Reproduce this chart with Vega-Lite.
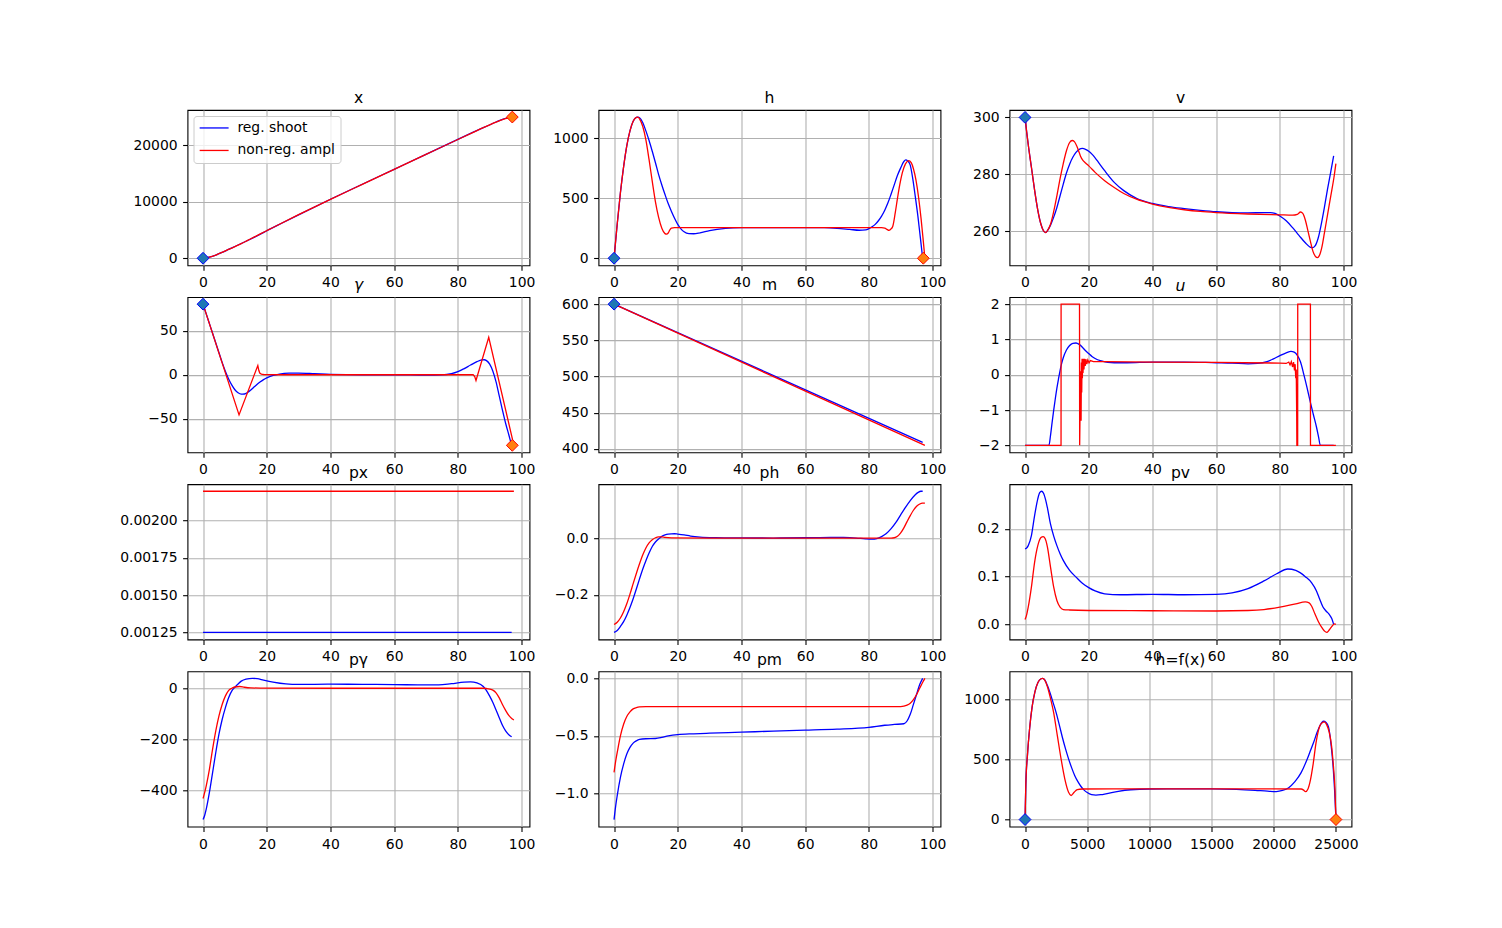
{
"$schema":"https://vega.github.io/schema/vega-lite/v6.json",
"background":"white",
"padding":{"left":118.5,"top":89,"right":5,"bottom":5},
"config":{
 "view":{"stroke":"black","strokeWidth":1.1},
 "axis":{"domain":false,"grid":true,"gridColor":"#b0b0b0","gridWidth":1.1,"tickColor":"black","tickSize":4.9,"tickWidth":1.1,"labelFont":"DejaVu Sans","labelFontSize":13.9,"labelColor":"black","labelPadding":5.5,"labelFlush":false,"labelOverlap":false,"labelBound":false},
 "title":{"font":"DejaVu Sans","fontSize":15.6,"fontWeight":"normal","color":"black","frame":"group","anchor":"middle","offset":3,"baseline":"alphabetic"},
 "line":{"strokeWidth":1.3}
},
"datasets":{
"mk":[{"p":"x","k":"start","t":0,"y":0},{"p":"x","k":"end","t":97.1,"y":25000},{"p":"h","k":"start","t":0,"y":0},{"p":"h","k":"end","t":97.1,"y":0},{"p":"v","k":"start","t":0,"y":300},{"p":"g","k":"start","t":0,"y":80},{"p":"g","k":"end","t":97.1,"y":-80},{"p":"m","k":"start","t":0,"y":600},{"p":"hx","k":"start","t":0,"y":0},{"p":"hx","k":"end","t":25000,"y":0}],
"x":[{"s":"b","t":0,"y":0},{"s":"b","t":2,"y":200},{"s":"b","t":4,"y":565},{"s":"b","t":6,"y":1035},{"s":"b","t":8,"y":1555},{"s":"b","t":10,"y":2080},{"s":"b","t":12,"y":2605},{"s":"b","t":14,"y":3140},{"s":"b","t":16,"y":3690},{"s":"b","t":18,"y":4260},{"s":"b","t":20,"y":4860},{"s":"b","t":25,"y":6280},{"s":"b","t":30,"y":7690},{"s":"b","t":40,"y":10440},{"s":"b","t":50,"y":13100},{"s":"b","t":60,"y":15750},{"s":"b","t":70,"y":18400},{"s":"b","t":80,"y":21060},{"s":"b","t":84,"y":22100},{"s":"b","t":88,"y":23130},{"s":"b","t":92,"y":24130},{"s":"b","t":94,"y":24610},{"s":"b","t":95.5,"y":24860},{"s":"b","t":96.9,"y":25000},
{"s":"r","t":0,"y":0},{"s":"r","t":2,"y":200},{"s":"r","t":4,"y":565},{"s":"r","t":6,"y":1035},{"s":"r","t":8,"y":1555},{"s":"r","t":10,"y":2060},{"s":"r","t":12,"y":2580},{"s":"r","t":14,"y":3160},{"s":"r","t":16,"y":3740},{"s":"r","t":18,"y":4310},{"s":"r","t":20,"y":4880},{"s":"r","t":30,"y":7710},{"s":"r","t":40,"y":10430},{"s":"r","t":50,"y":13080},{"s":"r","t":60,"y":15730},{"s":"r","t":70,"y":18380},{"s":"r","t":80,"y":21030},{"s":"r","t":85,"y":22340},{"s":"r","t":88,"y":23120},{"s":"r","t":90,"y":23620},{"s":"r","t":92,"y":24100},{"s":"r","t":94,"y":24540},{"s":"r","t":96,"y":24840},{"s":"r","t":97.6,"y":25000}],
"h":[{"s":"b","t":0,"y":0},{"s":"b","t":1,"y":285},{"s":"b","t":2,"y":545},{"s":"b","t":3,"y":760},{"s":"b","t":4,"y":935},{"s":"b","t":5,"y":1060},{"s":"b","t":6,"y":1140},{"s":"b","t":7,"y":1172},{"s":"b","t":7.5,"y":1175},{"s":"b","t":8,"y":1170},{"s":"b","t":9,"y":1130},{"s":"b","t":10,"y":1060},{"s":"b","t":11,"y":980},{"s":"b","t":12,"y":890},{"s":"b","t":13,"y":795},{"s":"b","t":14,"y":696},{"s":"b","t":15,"y":610},{"s":"b","t":16,"y":530},{"s":"b","t":17,"y":455},{"s":"b","t":18,"y":392},{"s":"b","t":19,"y":333},{"s":"b","t":20,"y":282},{"s":"b","t":21,"y":245},{"s":"b","t":22,"y":220},{"s":"b","t":23.5,"y":205},{"s":"b","t":25,"y":204},{"s":"b","t":27,"y":212},{"s":"b","t":30,"y":230},{"s":"b","t":35,"y":248},{"s":"b","t":40,"y":254},{"s":"b","t":50,"y":255},{"s":"b","t":60,"y":255},{"s":"b","t":66,"y":254},{"s":"b","t":70,"y":249},{"s":"b","t":74,"y":240},{"s":"b","t":77,"y":233},{"s":"b","t":79,"y":236},{"s":"b","t":80,"y":246},{"s":"b","t":81,"y":262},{"s":"b","t":82,"y":282},{"s":"b","t":83,"y":312},{"s":"b","t":84,"y":351},{"s":"b","t":85,"y":400},{"s":"b","t":86,"y":461},{"s":"b","t":87,"y":535},{"s":"b","t":88,"y":613},{"s":"b","t":89,"y":690},{"s":"b","t":90,"y":752},{"s":"b","t":91,"y":805},{"s":"b","t":91.6,"y":818},{"s":"b","t":92.2,"y":810},{"s":"b","t":93,"y":775},{"s":"b","t":93.8,"y":660},{"s":"b","t":94.6,"y":510},{"s":"b","t":95.4,"y":350},{"s":"b","t":96.2,"y":165},{"s":"b","t":96.9,"y":0},
{"s":"r","t":0,"y":0},{"s":"r","t":1,"y":285},{"s":"r","t":2,"y":545},{"s":"r","t":3,"y":760},{"s":"r","t":4,"y":935},{"s":"r","t":5,"y":1060},{"s":"r","t":6,"y":1140},{"s":"r","t":7,"y":1172},{"s":"r","t":7.5,"y":1175},{"s":"r","t":8,"y":1160},{"s":"r","t":9,"y":1098},{"s":"r","t":10,"y":985},{"s":"r","t":11,"y":820},{"s":"r","t":12,"y":640},{"s":"r","t":13,"y":470},{"s":"r","t":14,"y":340},{"s":"r","t":15,"y":250},{"s":"r","t":16,"y":205},{"s":"r","t":16.5,"y":200},{"s":"r","t":17,"y":210},{"s":"r","t":17.5,"y":235},{"s":"r","t":18,"y":250},{"s":"r","t":19,"y":254},{"s":"r","t":30,"y":254},{"s":"r","t":50,"y":255},{"s":"r","t":70,"y":255},{"s":"r","t":84,"y":254},{"s":"r","t":85,"y":250},{"s":"r","t":85.8,"y":238},{"s":"r","t":86.3,"y":232},{"s":"r","t":86.8,"y":240},{"s":"r","t":87.5,"y":265},{"s":"r","t":88.3,"y":380},{"s":"r","t":89,"y":500},{"s":"r","t":89.7,"y":610},{"s":"r","t":90.5,"y":710},{"s":"r","t":91.5,"y":785},{"s":"r","t":92.5,"y":812},{"s":"r","t":93.3,"y":795},{"s":"r","t":94,"y":745},{"s":"r","t":94.8,"y":650},{"s":"r","t":95.6,"y":510},{"s":"r","t":96.4,"y":330},{"s":"r","t":97,"y":170},{"s":"r","t":97.6,"y":0}],
"v":[{"s":"b","t":0,"y":300},{"s":"b","t":0.5,"y":295},{"s":"b","t":1,"y":290.5},{"s":"b","t":2,"y":282.5},{"s":"b","t":3,"y":274.5},{"s":"b","t":4,"y":267.5},{"s":"b","t":5,"y":262.5},{"s":"b","t":6,"y":259.9},{"s":"b","t":6.5,"y":259.6},{"s":"b","t":7,"y":260.2},{"s":"b","t":8,"y":262.2},{"s":"b","t":9,"y":265},{"s":"b","t":10,"y":268.4},{"s":"b","t":11,"y":272.5},{"s":"b","t":12,"y":276.6},{"s":"b","t":13,"y":280.5},{"s":"b","t":14,"y":283.6},{"s":"b","t":15,"y":286},{"s":"b","t":16,"y":287.7},{"s":"b","t":17,"y":288.8},{"s":"b","t":18,"y":289.1},{"s":"b","t":19,"y":288.8},{"s":"b","t":20,"y":288.1},{"s":"b","t":21,"y":287.1},{"s":"b","t":22,"y":285.8},{"s":"b","t":23,"y":284.3},{"s":"b","t":25,"y":281.3},{"s":"b","t":28,"y":277.2},{"s":"b","t":31,"y":274.3},{"s":"b","t":35,"y":271.6},{"s":"b","t":40,"y":269.8},{"s":"b","t":45,"y":268.7},{"s":"b","t":50,"y":268},{"s":"b","t":55,"y":267.4},{"s":"b","t":60,"y":266.9},{"s":"b","t":65,"y":266.6},{"s":"b","t":70,"y":266.5},{"s":"b","t":75,"y":266.6},{"s":"b","t":77,"y":266.6},{"s":"b","t":78.5,"y":266.3},{"s":"b","t":80,"y":265.4},{"s":"b","t":82,"y":263.7},{"s":"b","t":84,"y":261.3},{"s":"b","t":86,"y":258.6},{"s":"b","t":88,"y":256},{"s":"b","t":89.5,"y":254.5},{"s":"b","t":90.3,"y":254.3},{"s":"b","t":91,"y":254.8},{"s":"b","t":92,"y":257.5},{"s":"b","t":93,"y":262.5},{"s":"b","t":94,"y":268.5},{"s":"b","t":95,"y":275},{"s":"b","t":96,"y":281},{"s":"b","t":96.9,"y":286.5},
{"s":"r","t":0,"y":300},{"s":"r","t":0.5,"y":295},{"s":"r","t":1,"y":290.5},{"s":"r","t":2,"y":282.5},{"s":"r","t":3,"y":274.5},{"s":"r","t":4,"y":267.5},{"s":"r","t":5,"y":262.5},{"s":"r","t":6,"y":259.9},{"s":"r","t":6.5,"y":259.6},{"s":"r","t":7,"y":260.2},{"s":"r","t":8,"y":262.5},{"s":"r","t":9,"y":267},{"s":"r","t":10,"y":272.5},{"s":"r","t":11,"y":278.5},{"s":"r","t":12,"y":283.8},{"s":"r","t":13,"y":288.3},{"s":"r","t":14,"y":291.2},{"s":"r","t":14.8,"y":291.9},{"s":"r","t":15.5,"y":291.5},{"s":"r","t":16.3,"y":289.8},{"s":"r","t":17,"y":287.7},{"s":"r","t":17.5,"y":286.2},{"s":"r","t":18,"y":285.2},{"s":"r","t":19,"y":284},{"s":"r","t":20,"y":283},{"s":"r","t":22,"y":280.7},{"s":"r","t":25,"y":277.8},{"s":"r","t":28,"y":275.4},{"s":"r","t":31,"y":273.3},{"s":"r","t":35,"y":271.3},{"s":"r","t":40,"y":269.6},{"s":"r","t":45,"y":268.4},{"s":"r","t":50,"y":267.6},{"s":"r","t":55,"y":267},{"s":"r","t":60,"y":266.6},{"s":"r","t":70,"y":266.1},{"s":"r","t":80,"y":265.8},{"s":"r","t":84,"y":265.7},{"s":"r","t":85.5,"y":266},{"s":"r","t":86.5,"y":266.8},{"s":"r","t":87.2,"y":266.3},{"s":"r","t":88,"y":264},{"s":"r","t":88.8,"y":260.3},{"s":"r","t":89.6,"y":256.5},{"s":"r","t":90.4,"y":253},{"s":"r","t":91.2,"y":251.2},{"s":"r","t":91.8,"y":250.8},{"s":"r","t":92.4,"y":251.5},{"s":"r","t":93.2,"y":254.5},{"s":"r","t":94,"y":259.5},{"s":"r","t":95,"y":266},{"s":"r","t":96,"y":272.5},{"s":"r","t":97,"y":279},{"s":"r","t":97.6,"y":283.8}],
"g":[{"s":"b","t":0,"y":80},{"s":"b","t":1,"y":69},{"s":"b","t":2,"y":58},{"s":"b","t":3,"y":47},{"s":"b","t":4,"y":36},{"s":"b","t":5,"y":25},{"s":"b","t":6,"y":14},{"s":"b","t":7,"y":4},{"s":"b","t":8,"y":-4.5},{"s":"b","t":9,"y":-11.5},{"s":"b","t":10,"y":-17},{"s":"b","t":11,"y":-20.5},{"s":"b","t":12,"y":-22},{"s":"b","t":13,"y":-21.8},{"s":"b","t":14,"y":-20},{"s":"b","t":15,"y":-17.3},{"s":"b","t":16,"y":-14},{"s":"b","t":17,"y":-10.8},{"s":"b","t":18,"y":-8},{"s":"b","t":19,"y":-5.5},{"s":"b","t":20,"y":-3.5},{"s":"b","t":22,"y":-0.8},{"s":"b","t":24,"y":0.8},{"s":"b","t":27,"y":1.8},{"s":"b","t":30,"y":1.9},{"s":"b","t":35,"y":1.2},{"s":"b","t":40,"y":0.4},{"s":"b","t":50,"y":0},{"s":"b","t":60,"y":0},{"s":"b","t":70,"y":-0.4},{"s":"b","t":75,"y":-0.2},{"s":"b","t":78,"y":1.2},{"s":"b","t":80,"y":3.5},{"s":"b","t":82,"y":7},{"s":"b","t":84,"y":11},{"s":"b","t":86,"y":14.8},{"s":"b","t":87.5,"y":16.8},{"s":"b","t":88.3,"y":17},{"s":"b","t":89,"y":16},{"s":"b","t":90,"y":12},{"s":"b","t":91,"y":4},{"s":"b","t":92,"y":-8},{"s":"b","t":93,"y":-24},{"s":"b","t":94,"y":-40},{"s":"b","t":95,"y":-55},{"s":"b","t":96,"y":-68},{"s":"b","t":96.9,"y":-80},
{"s":"r","t":0,"y":80},{"s":"r","t":11.3,"y":-45.5},{"s":"r","t":17.2,"y":10.5},{"s":"r","t":17.5,"y":5},{"s":"r","t":17.8,"y":2},{"s":"r","t":18.3,"y":0.8},{"s":"r","t":19,"y":0.3},{"s":"r","t":25,"y":0},{"s":"r","t":84.8,"y":0},{"s":"r","t":85.3,"y":-2},{"s":"r","t":85.7,"y":-6.5},{"s":"r","t":89.7,"y":42.4},{"s":"r","t":97.6,"y":-80}],
"m":[{"s":"b","t":0,"y":600},{"s":"b","t":48,"y":505.5},{"s":"b","t":96.9,"y":409},{"s":"r","t":0,"y":600},{"s":"r","t":48,"y":504},{"s":"r","t":97.6,"y":405}],
"u":[{"s":"b","t":0,"y":-2},{"s":"b","t":7.5,"y":-2},{"s":"b","t":8,"y":-1.72},{"s":"b","t":8.5,"y":-1.35},{"s":"b","t":9,"y":-1},{"s":"b","t":9.5,"y":-0.68},{"s":"b","t":10,"y":-0.38},{"s":"b","t":10.5,"y":-0.12},{"s":"b","t":11,"y":0.12},{"s":"b","t":11.5,"y":0.32},{"s":"b","t":12,"y":0.48},{"s":"b","t":13,"y":0.7},{"s":"b","t":14,"y":0.83},{"s":"b","t":15,"y":0.89},{"s":"b","t":16,"y":0.9},{"s":"b","t":17,"y":0.86},{"s":"b","t":18,"y":0.78},{"s":"b","t":19,"y":0.68},{"s":"b","t":20,"y":0.6},{"s":"b","t":21,"y":0.52},{"s":"b","t":22,"y":0.46},{"s":"b","t":24,"y":0.39},{"s":"b","t":26,"y":0.35},{"s":"b","t":28,"y":0.34},{"s":"b","t":32,"y":0.34},{"s":"b","t":40,"y":0.36},{"s":"b","t":50,"y":0.36},{"s":"b","t":60,"y":0.34},{"s":"b","t":65,"y":0.33},{"s":"b","t":70,"y":0.31},{"s":"b","t":73,"y":0.32},{"s":"b","t":76,"y":0.37},{"s":"b","t":78,"y":0.45},{"s":"b","t":80,"y":0.54},{"s":"b","t":82,"y":0.62},{"s":"b","t":83.5,"y":0.66},{"s":"b","t":84.5,"y":0.64},{"s":"b","t":85.5,"y":0.55},{"s":"b","t":86.5,"y":0.36},{"s":"b","t":87.5,"y":0.02},{"s":"b","t":88.5,"y":-0.35},{"s":"b","t":89.5,"y":-0.75},{"s":"b","t":90.5,"y":-1.12},{"s":"b","t":91.5,"y":-1.48},{"s":"b","t":92.2,"y":-1.78},{"s":"b","t":92.7,"y":-2},{"s":"b","t":96.9,"y":-2},
{"s":"r","t":0,"y":-2},{"s":"r","t":11.3,"y":-2},{"s":"r","t":11.32,"y":2},{"s":"r","t":17.1,"y":2},{"s":"r","t":17.15,"y":-2},{"s":"r","t":17.35,"y":-0.5},{"s":"r","t":17.5,"y":0.1},{"s":"r","t":17.6,"y":-1.3},{"s":"r","t":17.7,"y":0.35},{"s":"r","t":17.8,"y":-0.5},{"s":"r","t":17.9,"y":0.45},{"s":"r","t":18,"y":-0.1},{"s":"r","t":18.1,"y":0.45},{"s":"r","t":18.2,"y":0.05},{"s":"r","t":18.35,"y":0.45},{"s":"r","t":18.5,"y":0.15},{"s":"r","t":18.7,"y":0.45},{"s":"r","t":18.9,"y":0.25},{"s":"r","t":19.1,"y":0.44},{"s":"r","t":19.4,"y":0.3},{"s":"r","t":19.7,"y":0.42},{"s":"r","t":20.1,"y":0.34},{"s":"r","t":20.5,"y":0.4},{"s":"r","t":21.5,"y":0.37},{"s":"r","t":25,"y":0.37},{"s":"r","t":40,"y":0.36},{"s":"r","t":60,"y":0.35},{"s":"r","t":80,"y":0.33},{"s":"r","t":82,"y":0.32},{"s":"r","t":82.8,"y":0.36},{"s":"r","t":83.2,"y":0.28},{"s":"r","t":83.6,"y":0.37},{"s":"r","t":84,"y":0.22},{"s":"r","t":84.3,"y":0.36},{"s":"r","t":84.6,"y":0.12},{"s":"r","t":84.8,"y":0.3},{"s":"r","t":85,"y":-0.1},{"s":"r","t":85.15,"y":0.15},{"s":"r","t":85.3,"y":-1.2},{"s":"r","t":85.35,"y":-2},{"s":"r","t":85.6,"y":-2},{"s":"r","t":85.62,"y":2},{"s":"r","t":89.6,"y":2},{"s":"r","t":89.62,"y":-2},{"s":"r","t":97.6,"y":-2}],
"px":[{"s":"b","t":0,"y":0.00125},{"s":"b","t":96.9,"y":0.00125},{"s":"r","t":0,"y":0.002195},{"s":"r","t":97.6,"y":0.002195}],
"ph":[{"s":"b","t":0,"y":-0.333},{"s":"b","t":1,"y":-0.326},{"s":"b","t":2,"y":-0.312},{"s":"b","t":3,"y":-0.295},{"s":"b","t":4,"y":-0.272},{"s":"b","t":5,"y":-0.245},{"s":"b","t":6,"y":-0.214},{"s":"b","t":7,"y":-0.18},{"s":"b","t":8,"y":-0.144},{"s":"b","t":9,"y":-0.11},{"s":"b","t":10,"y":-0.08},{"s":"b","t":11,"y":-0.053},{"s":"b","t":12,"y":-0.03},{"s":"b","t":13,"y":-0.014},{"s":"b","t":14,"y":-0.003},{"s":"b","t":15,"y":0.006},{"s":"b","t":16,"y":0.011},{"s":"b","t":17,"y":0.014},{"s":"b","t":18,"y":0.015},{"s":"b","t":19,"y":0.0152},{"s":"b","t":20,"y":0.014},{"s":"b","t":22,"y":0.011},{"s":"b","t":24,"y":0.007},{"s":"b","t":27,"y":0.0035},{"s":"b","t":32,"y":0.0015},{"s":"b","t":40,"y":0.0005},{"s":"b","t":50,"y":0},{"s":"b","t":60,"y":0.001},{"s":"b","t":68,"y":0.0025},{"s":"b","t":72,"y":0.002},{"s":"b","t":76,"y":0},{"s":"b","t":79,"y":-0.003},{"s":"b","t":81,"y":-0.004},{"s":"b","t":82.5,"y":-0.002},{"s":"b","t":84,"y":0.005},{"s":"b","t":85.5,"y":0.016},{"s":"b","t":87,"y":0.033},{"s":"b","t":88.5,"y":0.055},{"s":"b","t":90,"y":0.082},{"s":"b","t":91.5,"y":0.108},{"s":"b","t":93,"y":0.132},{"s":"b","t":94.5,"y":0.152},{"s":"b","t":95.5,"y":0.161},{"s":"b","t":96.3,"y":0.165},{"s":"b","t":96.9,"y":0.165},
{"s":"r","t":0,"y":-0.305},{"s":"r","t":1,"y":-0.297},{"s":"r","t":2,"y":-0.282},{"s":"r","t":3,"y":-0.26},{"s":"r","t":4,"y":-0.232},{"s":"r","t":5,"y":-0.198},{"s":"r","t":6,"y":-0.161},{"s":"r","t":7,"y":-0.125},{"s":"r","t":8,"y":-0.091},{"s":"r","t":9,"y":-0.06},{"s":"r","t":10,"y":-0.035},{"s":"r","t":11,"y":-0.017},{"s":"r","t":12,"y":-0.006},{"s":"r","t":13,"y":0.001},{"s":"r","t":14,"y":0.004},{"s":"r","t":15,"y":0.004},{"s":"r","t":16,"y":0.002},{"s":"r","t":18,"y":0.0005},{"s":"r","t":30,"y":0},{"s":"r","t":87,"y":0},{"s":"r","t":88,"y":0.001},{"s":"r","t":89,"y":0.006},{"s":"r","t":90,"y":0.018},{"s":"r","t":91,"y":0.036},{"s":"r","t":92,"y":0.058},{"s":"r","t":93,"y":0.079},{"s":"r","t":94,"y":0.098},{"s":"r","t":95,"y":0.112},{"s":"r","t":96,"y":0.12},{"s":"r","t":96.8,"y":0.123},{"s":"r","t":97.6,"y":0.123}],
"pv":[{"s":"b","t":0,"y":0.158},{"s":"b","t":0.5,"y":0.16},{"s":"b","t":1,"y":0.165},{"s":"b","t":2,"y":0.186},{"s":"b","t":3,"y":0.228},{"s":"b","t":4,"y":0.263},{"s":"b","t":4.6,"y":0.276},{"s":"b","t":5.2,"y":0.279},{"s":"b","t":5.8,"y":0.275},{"s":"b","t":6.5,"y":0.26},{"s":"b","t":7,"y":0.245},{"s":"b","t":8,"y":0.21},{"s":"b","t":9,"y":0.185},{"s":"b","t":10,"y":0.165},{"s":"b","t":11,"y":0.148},{"s":"b","t":12,"y":0.134},{"s":"b","t":14,"y":0.113},{"s":"b","t":16,"y":0.099},{"s":"b","t":18,"y":0.086},{"s":"b","t":20,"y":0.077},{"s":"b","t":22,"y":0.07},{"s":"b","t":25,"y":0.064},{"s":"b","t":30,"y":0.062},{"s":"b","t":40,"y":0.063},{"s":"b","t":50,"y":0.062},{"s":"b","t":60,"y":0.063},{"s":"b","t":65,"y":0.066},{"s":"b","t":70,"y":0.075},{"s":"b","t":75,"y":0.091},{"s":"b","t":79,"y":0.106},{"s":"b","t":82.5,"y":0.116},{"s":"b","t":85,"y":0.113},{"s":"b","t":88,"y":0.1},{"s":"b","t":90,"y":0.087},{"s":"b","t":91.5,"y":0.07},{"s":"b","t":92.5,"y":0.053},{"s":"b","t":93.5,"y":0.037},{"s":"b","t":94.5,"y":0.028},{"s":"b","t":95.5,"y":0.021},{"s":"b","t":96.3,"y":0.012},{"s":"b","t":96.9,"y":0},
{"s":"r","t":0,"y":0.01},{"s":"r","t":0.5,"y":0.02},{"s":"r","t":1,"y":0.036},{"s":"r","t":2,"y":0.078},{"s":"r","t":3,"y":0.13},{"s":"r","t":4,"y":0.165},{"s":"r","t":5,"y":0.182},{"s":"r","t":5.7,"y":0.184},{"s":"r","t":6.3,"y":0.18},{"s":"r","t":7,"y":0.163},{"s":"r","t":8,"y":0.12},{"s":"r","t":9,"y":0.078},{"s":"r","t":10,"y":0.05},{"s":"r","t":11,"y":0.036},{"s":"r","t":12,"y":0.031},{"s":"r","t":14,"y":0.03},{"s":"r","t":20,"y":0.029},{"s":"r","t":40,"y":0.0285},{"s":"r","t":60,"y":0.028},{"s":"r","t":70,"y":0.029},{"s":"r","t":75,"y":0.031},{"s":"r","t":80,"y":0.036},{"s":"r","t":85,"y":0.043},{"s":"r","t":88,"y":0.047},{"s":"r","t":89.2,"y":0.045},{"s":"r","t":90,"y":0.038},{"s":"r","t":91,"y":0.022},{"s":"r","t":92,"y":0.007},{"s":"r","t":93,"y":-0.005},{"s":"r","t":94,"y":-0.014},{"s":"r","t":94.7,"y":-0.017},{"s":"r","t":95.5,"y":-0.012},{"s":"r","t":96.5,"y":-0.003},{"s":"r","t":97.2,"y":0.001},{"s":"r","t":97.6,"y":0}],
"pg":[{"s":"b","t":0,"y":-516},{"s":"b","t":0.5,"y":-500},{"s":"b","t":1,"y":-475},{"s":"b","t":2,"y":-409},{"s":"b","t":3,"y":-331},{"s":"b","t":4,"y":-252},{"s":"b","t":5,"y":-180},{"s":"b","t":6,"y":-122},{"s":"b","t":7,"y":-76},{"s":"b","t":8,"y":-37},{"s":"b","t":9,"y":-10},{"s":"b","t":10,"y":5},{"s":"b","t":11,"y":18},{"s":"b","t":12,"y":29},{"s":"b","t":13.5,"y":37},{"s":"b","t":15.5,"y":40},{"s":"b","t":17,"y":39},{"s":"b","t":19,"y":33},{"s":"b","t":22,"y":25},{"s":"b","t":26,"y":18},{"s":"b","t":30,"y":16},{"s":"b","t":40,"y":17},{"s":"b","t":50,"y":16.5},{"s":"b","t":60,"y":15.5},{"s":"b","t":70,"y":14},{"s":"b","t":74,"y":14},{"s":"b","t":78,"y":19},{"s":"b","t":82,"y":25},{"s":"b","t":84,"y":26},{"s":"b","t":86,"y":22},{"s":"b","t":88,"y":8},{"s":"b","t":89,"y":-8},{"s":"b","t":90,"y":-30},{"s":"b","t":91,"y":-55},{"s":"b","t":92,"y":-85},{"s":"b","t":93,"y":-115},{"s":"b","t":94,"y":-145},{"s":"b","t":95,"y":-167},{"s":"b","t":96,"y":-182},{"s":"b","t":96.9,"y":-190},
{"s":"r","t":0,"y":-433},{"s":"r","t":0.5,"y":-410},{"s":"r","t":1,"y":-383},{"s":"r","t":2,"y":-318},{"s":"r","t":3,"y":-239},{"s":"r","t":4,"y":-167},{"s":"r","t":5,"y":-108},{"s":"r","t":6,"y":-63},{"s":"r","t":7,"y":-30},{"s":"r","t":8,"y":-8},{"s":"r","t":9,"y":1},{"s":"r","t":10,"y":6},{"s":"r","t":11.5,"y":8},{"s":"r","t":13,"y":5},{"s":"r","t":15,"y":2.6},{"s":"r","t":20,"y":1.3},{"s":"r","t":40,"y":1},{"s":"r","t":70,"y":1},{"s":"r","t":88,"y":1},{"s":"r","t":89,"y":0},{"s":"r","t":90,"y":-2},{"s":"r","t":91,"y":-6.5},{"s":"r","t":92,"y":-17},{"s":"r","t":93,"y":-37},{"s":"r","t":94,"y":-63},{"s":"r","t":95,"y":-86},{"s":"r","t":96,"y":-106},{"s":"r","t":97,"y":-119},{"s":"r","t":97.6,"y":-124}],
"pm":[{"s":"b","t":0,"y":-1.225},{"s":"b","t":0.5,"y":-1.11},{"s":"b","t":1,"y":-1.017},{"s":"b","t":2,"y":-0.859},{"s":"b","t":3,"y":-0.744},{"s":"b","t":4,"y":-0.657},{"s":"b","t":5,"y":-0.599},{"s":"b","t":6,"y":-0.562},{"s":"b","t":7,"y":-0.542},{"s":"b","t":8,"y":-0.53},{"s":"b","t":10,"y":-0.524},{"s":"b","t":13,"y":-0.522},{"s":"b","t":15,"y":-0.513},{"s":"b","t":17,"y":-0.5},{"s":"b","t":20,"y":-0.488},{"s":"b","t":25,"y":-0.481},{"s":"b","t":30,"y":-0.476},{"s":"b","t":40,"y":-0.467},{"s":"b","t":50,"y":-0.458},{"s":"b","t":60,"y":-0.45},{"s":"b","t":70,"y":-0.441},{"s":"b","t":80,"y":-0.425},{"s":"b","t":85,"y":-0.407},{"s":"b","t":88,"y":-0.4},{"s":"b","t":91,"y":-0.394},{"s":"b","t":92,"y":-0.37},{"s":"b","t":93,"y":-0.312},{"s":"b","t":94,"y":-0.226},{"s":"b","t":95,"y":-0.138},{"s":"b","t":96,"y":-0.052},{"s":"b","t":96.9,"y":0},
{"s":"r","t":0,"y":-0.816},{"s":"r","t":0.5,"y":-0.72},{"s":"r","t":1,"y":-0.643},{"s":"r","t":2,"y":-0.499},{"s":"r","t":3,"y":-0.398},{"s":"r","t":4,"y":-0.331},{"s":"r","t":5,"y":-0.291},{"s":"r","t":6,"y":-0.265},{"s":"r","t":7,"y":-0.254},{"s":"r","t":8,"y":-0.248},{"s":"r","t":10,"y":-0.245},{"s":"r","t":50,"y":-0.245},{"s":"r","t":90,"y":-0.245},{"s":"r","t":91,"y":-0.242},{"s":"r","t":92,"y":-0.233},{"s":"r","t":93,"y":-0.216},{"s":"r","t":94,"y":-0.184},{"s":"r","t":95,"y":-0.14},{"s":"r","t":96,"y":-0.084},{"s":"r","t":97,"y":-0.03},{"s":"r","t":97.6,"y":0}],
"hx":[{"s":"b","t":0,"y":0},{"s":"b","t":60,"y":285},{"s":"b","t":200,"y":545},{"s":"b","t":370,"y":760},{"s":"b","t":565,"y":935},{"s":"b","t":790,"y":1060},{"s":"b","t":1035,"y":1140},{"s":"b","t":1290,"y":1172},{"s":"b","t":1420,"y":1175},{"s":"b","t":1600,"y":1160},{"s":"b","t":1800,"y":1115},{"s":"b","t":2000,"y":1058},{"s":"b","t":2250,"y":975},{"s":"b","t":2500,"y":890},{"s":"b","t":2750,"y":790},{"s":"b","t":3000,"y":685},{"s":"b","t":3250,"y":590},{"s":"b","t":3500,"y":505},{"s":"b","t":3750,"y":430},{"s":"b","t":4000,"y":365},{"s":"b","t":4250,"y":315},{"s":"b","t":4500,"y":275},{"s":"b","t":4750,"y":245},{"s":"b","t":5000,"y":225},{"s":"b","t":5350,"y":208},{"s":"b","t":5700,"y":204},{"s":"b","t":6100,"y":207},{"s":"b","t":6500,"y":214},{"s":"b","t":7500,"y":235},{"s":"b","t":8500,"y":248},{"s":"b","t":10000,"y":254},{"s":"b","t":12500,"y":255},{"s":"b","t":15000,"y":255},{"s":"b","t":17000,"y":251},{"s":"b","t":18500,"y":243},{"s":"b","t":19500,"y":236},{"s":"b","t":20200,"y":233},{"s":"b","t":20700,"y":242},{"s":"b","t":21200,"y":265},{"s":"b","t":21700,"y":315},{"s":"b","t":22200,"y":390},{"s":"b","t":22600,"y":480},{"s":"b","t":22900,"y":560},{"s":"b","t":23200,"y":641},{"s":"b","t":23500,"y":730},{"s":"b","t":23700,"y":779},{"s":"b","t":24000,"y":818},{"s":"b","t":24200,"y":808},{"s":"b","t":24400,"y":770},{"s":"b","t":24600,"y":630},{"s":"b","t":24780,"y":430},{"s":"b","t":24900,"y":230},{"s":"b","t":25000,"y":0},
{"s":"r","t":0,"y":0},{"s":"r","t":60,"y":285},{"s":"r","t":200,"y":545},{"s":"r","t":370,"y":760},{"s":"r","t":565,"y":935},{"s":"r","t":790,"y":1060},{"s":"r","t":1035,"y":1140},{"s":"r","t":1290,"y":1172},{"s":"r","t":1420,"y":1175},{"s":"r","t":1600,"y":1158},{"s":"r","t":1800,"y":1105},{"s":"r","t":2000,"y":1028},{"s":"r","t":2300,"y":890},{"s":"r","t":2600,"y":696},{"s":"r","t":2900,"y":503},{"s":"r","t":3200,"y":337},{"s":"r","t":3500,"y":227},{"s":"r","t":3700,"y":200},{"s":"r","t":3950,"y":227},{"s":"r","t":4200,"y":249},{"s":"r","t":4600,"y":254},{"s":"r","t":10000,"y":255},{"s":"r","t":15000,"y":255},{"s":"r","t":20000,"y":255},{"s":"r","t":22200,"y":254},{"s":"r","t":22400,"y":245},{"s":"r","t":22550,"y":232},{"s":"r","t":22750,"y":255},{"s":"r","t":22950,"y":330},{"s":"r","t":23150,"y":450},{"s":"r","t":23400,"y":641},{"s":"r","t":23700,"y":779},{"s":"r","t":23900,"y":805},{"s":"r","t":24050,"y":812},{"s":"r","t":24250,"y":790},{"s":"r","t":24450,"y":730},{"s":"r","t":24650,"y":610},{"s":"r","t":24800,"y":440},{"s":"r","t":24920,"y":250},{"s":"r","t":25000,"y":0}]
},
"columns":3,
"spacing":{"row":31.1,"column":69},
"bounds":"flush",
"resolve":{"scale":{"color":"independent"},"legend":{"color":"independent"}},
"concat":[
{"title":"x","width":342,"height":155.3,"data":{"name":"x"},
 "encoding":{"x":{"field":"t","type":"quantitative","scale":{"domain":[-4.88,102.5],"nice":false,"zero":false},"axis":{"values":[0,20,40,60,80,100],"format":"d","title":null}},
  "y":{"field":"y","type":"quantitative","scale":{"domain":[-1250,26250],"nice":false,"zero":false},"axis":{"values":[0,10000,20000],"format":"d","title":null}}},
 "layer":[
  {"transform":[{"filter":"datum.s=='b'"}],"mark":{"type":"line","interpolate":"monotone","strokeWidth":1.3},"encoding":{"color":{"datum":"reg. shoot","type":"nominal","scale":{"domain":["reg. shoot","non-reg. ampl"],"range":["blue","red"]},"legend":{"title":null,"orient":"top-left","offset":6,"padding":5,"fillColor":"rgba(255,255,255,0.8)","strokeColor":"#cccccc","cornerRadius":3,"symbolType":"M-1,0L4,0","symbolSize":134,"symbolStrokeWidth":1.3,"labelFont":"DejaVu Sans","labelFontSize":13.9,"labelColor":"black","labelOffset":25,"rowPadding":7.5}}}},
  {"transform":[{"filter":"datum.s=='r'"}],"mark":{"type":"line","interpolate":"monotone","strokeWidth":1.3},"encoding":{"color":{"datum":"non-reg. ampl","type":"nominal"}}},
  {"data":{"name":"mk"},"transform":[{"filter":"datum.p=='x' && datum.k=='start'"}],"mark":{"type":"point","shape":"diamond","filled":true,"size":140,"fill":"#1f77b4","stroke":"blue","strokeWidth":1,"opacity":1}},
  {"data":{"name":"mk"},"transform":[{"filter":"datum.p=='x' && datum.k=='end'"}],"mark":{"type":"point","shape":"diamond","filled":true,"size":140,"fill":"#ff7f0e","stroke":"red","strokeWidth":1,"opacity":1}}
 ]},
{"title":"h","width":342,"height":155.3,"data":{"name":"h"},
 "encoding":{"x":{"field":"t","type":"quantitative","scale":{"domain":[-4.88,102.5],"nice":false,"zero":false},"axis":{"values":[0,20,40,60,80,100],"format":"d","title":null}},
  "y":{"field":"y","type":"quantitative","scale":{"domain":[-58.75,1233.75],"nice":false,"zero":false},"axis":{"values":[0,500,1000],"format":"d","title":null}}},
 "layer":[
  {"transform":[{"filter":"datum.s=='b'"}],"mark":{"type":"line","interpolate":"monotone","color":"blue","strokeWidth":1.3}},
  {"transform":[{"filter":"datum.s=='r'"}],"mark":{"type":"line","interpolate":"monotone","color":"red","strokeWidth":1.3}},
  {"data":{"name":"mk"},"transform":[{"filter":"datum.p=='h' && datum.k=='start'"}],"mark":{"type":"point","shape":"diamond","filled":true,"size":140,"fill":"#1f77b4","stroke":"blue","strokeWidth":1,"opacity":1}},
  {"data":{"name":"mk"},"transform":[{"filter":"datum.p=='h' && datum.k=='end'"}],"mark":{"type":"point","shape":"diamond","filled":true,"size":140,"fill":"#ff7f0e","stroke":"red","strokeWidth":1,"opacity":1}}
 ]},
{"title":"v","width":342,"height":155.3,"data":{"name":"v"},
 "encoding":{"x":{"field":"t","type":"quantitative","scale":{"domain":[-4.88,102.5],"nice":false,"zero":false},"axis":{"values":[0,20,40,60,80,100],"format":"d","title":null}},
  "y":{"field":"y","type":"quantitative","scale":{"domain":[248.1,302.6],"nice":false,"zero":false},"axis":{"values":[260,280,300],"format":"d","title":null}}},
 "layer":[
  {"transform":[{"filter":"datum.s=='b'"}],"mark":{"type":"line","interpolate":"monotone","color":"blue","strokeWidth":1.3}},
  {"transform":[{"filter":"datum.s=='r'"}],"mark":{"type":"line","interpolate":"monotone","color":"red","strokeWidth":1.3}},
  {"data":{"name":"mk"},"transform":[{"filter":"datum.p=='v' && datum.k=='start'"}],"mark":{"type":"point","shape":"diamond","filled":true,"size":140,"fill":"#1f77b4","stroke":"blue","strokeWidth":1,"opacity":1}}
 ]},
{"title":{"text":"γ","fontStyle":"italic"},"width":342,"height":155.3,"data":{"name":"g"},
 "encoding":{"x":{"field":"t","type":"quantitative","scale":{"domain":[-4.88,102.5],"nice":false,"zero":false},"axis":{"values":[0,20,40,60,80,100],"format":"d","title":null}},
  "y":{"field":"y","type":"quantitative","scale":{"domain":[-88,88],"nice":false,"zero":false},"axis":{"values":[-50,0,50],"format":"d","title":null}}},
 "layer":[
  {"transform":[{"filter":"datum.s=='b'"}],"mark":{"type":"line","interpolate":"monotone","color":"blue","strokeWidth":1.3}},
  {"transform":[{"filter":"datum.s=='r'"}],"mark":{"type":"line","interpolate":"linear","color":"red","strokeWidth":1.3}},
  {"data":{"name":"mk"},"transform":[{"filter":"datum.p=='g' && datum.k=='start'"}],"mark":{"type":"point","shape":"diamond","filled":true,"size":140,"fill":"#1f77b4","stroke":"blue","strokeWidth":1,"opacity":1}},
  {"data":{"name":"mk"},"transform":[{"filter":"datum.p=='g' && datum.k=='end'"}],"mark":{"type":"point","shape":"diamond","filled":true,"size":140,"fill":"#ff7f0e","stroke":"red","strokeWidth":1,"opacity":1}}
 ]},
{"title":"m","width":342,"height":155.3,"data":{"name":"m"},
 "encoding":{"x":{"field":"t","type":"quantitative","scale":{"domain":[-4.88,102.5],"nice":false,"zero":false},"axis":{"values":[0,20,40,60,80,100],"format":"d","title":null}},
  "y":{"field":"y","type":"quantitative","scale":{"domain":[395.25,609.75],"nice":false,"zero":false},"axis":{"values":[400,450,500,550,600],"format":"d","title":null}}},
 "layer":[
  {"transform":[{"filter":"datum.s=='b'"}],"mark":{"type":"line","color":"blue","strokeWidth":1.3}},
  {"transform":[{"filter":"datum.s=='r'"}],"mark":{"type":"line","color":"red","strokeWidth":1.3}},
  {"data":{"name":"mk"},"transform":[{"filter":"datum.p=='m' && datum.k=='start'"}],"mark":{"type":"point","shape":"diamond","filled":true,"size":140,"fill":"#1f77b4","stroke":"blue","strokeWidth":1,"opacity":1}}
 ]},
{"title":{"text":"u","fontStyle":"italic"},"width":342,"height":155.3,"data":{"name":"u"},
 "encoding":{"x":{"field":"t","type":"quantitative","scale":{"domain":[-4.88,102.5],"nice":false,"zero":false},"axis":{"values":[0,20,40,60,80,100],"format":"d","title":null}},
  "y":{"field":"y","type":"quantitative","scale":{"domain":[-2.2,2.2],"nice":false,"zero":false},"axis":{"values":[-2,-1,0,1,2],"format":"d","title":null}}},
 "layer":[
  {"transform":[{"filter":"datum.s=='b'"}],"mark":{"type":"line","interpolate":"monotone","color":"blue","strokeWidth":1.3}},
  {"transform":[{"filter":"datum.s=='r'"}],"mark":{"type":"line","interpolate":"linear","color":"red","strokeWidth":1.3}}
 ]},
{"title":"px","width":342,"height":155.3,"data":{"name":"px"},
 "encoding":{"x":{"field":"t","type":"quantitative","scale":{"domain":[-4.88,102.5],"nice":false,"zero":false},"axis":{"values":[0,20,40,60,80,100],"format":"d","title":null}},
  "y":{"field":"y","type":"quantitative","scale":{"domain":[0.0012028,0.0022422],"nice":false,"zero":false},"axis":{"values":[0.00125,0.0015,0.00175,0.002],"format":".5f","title":null}}},
 "layer":[
  {"transform":[{"filter":"datum.s=='b'"}],"mark":{"type":"line","color":"blue","strokeWidth":1.3}},
  {"transform":[{"filter":"datum.s=='r'"}],"mark":{"type":"line","color":"red","strokeWidth":1.3}}
 ]},
{"title":"ph","width":342,"height":155.3,"data":{"name":"ph"},
 "encoding":{"x":{"field":"t","type":"quantitative","scale":{"domain":[-4.88,102.5],"nice":false,"zero":false},"axis":{"values":[0,20,40,60,80,100],"format":"d","title":null}},
  "y":{"field":"y","type":"quantitative","scale":{"domain":[-0.3579,0.1899],"nice":false,"zero":false},"axis":{"values":[-0.2,0],"format":".1f","title":null}}},
 "layer":[
  {"transform":[{"filter":"datum.s=='b'"}],"mark":{"type":"line","interpolate":"monotone","color":"blue","strokeWidth":1.3}},
  {"transform":[{"filter":"datum.s=='r'"}],"mark":{"type":"line","interpolate":"monotone","color":"red","strokeWidth":1.3}}
 ]},
{"title":"pv","width":342,"height":155.3,"data":{"name":"pv"},
 "encoding":{"x":{"field":"t","type":"quantitative","scale":{"domain":[-4.88,102.5],"nice":false,"zero":false},"axis":{"values":[0,20,40,60,80,100],"format":"d","title":null}},
  "y":{"field":"y","type":"quantitative","scale":{"domain":[-0.0318,0.2938],"nice":false,"zero":false},"axis":{"values":[0,0.1,0.2],"format":".1f","title":null}}},
 "layer":[
  {"transform":[{"filter":"datum.s=='b'"}],"mark":{"type":"line","interpolate":"monotone","color":"blue","strokeWidth":1.3}},
  {"transform":[{"filter":"datum.s=='r'"}],"mark":{"type":"line","interpolate":"monotone","color":"red","strokeWidth":1.3}}
 ]},
{"title":"pγ","width":342,"height":155.3,"data":{"name":"pg"},
 "encoding":{"x":{"field":"t","type":"quantitative","scale":{"domain":[-4.88,102.5],"nice":false,"zero":false},"axis":{"values":[0,20,40,60,80,100],"format":"d","title":null}},
  "y":{"field":"y","type":"quantitative","scale":{"domain":[-543.8,67.8],"nice":false,"zero":false},"axis":{"values":[-400,-200,0],"format":"d","title":null}}},
 "layer":[
  {"transform":[{"filter":"datum.s=='b'"}],"mark":{"type":"line","interpolate":"monotone","color":"blue","strokeWidth":1.3}},
  {"transform":[{"filter":"datum.s=='r'"}],"mark":{"type":"line","interpolate":"monotone","color":"red","strokeWidth":1.3}}
 ]},
{"title":"pm","width":342,"height":155.3,"data":{"name":"pm"},
 "encoding":{"x":{"field":"t","type":"quantitative","scale":{"domain":[-4.88,102.5],"nice":false,"zero":false},"axis":{"values":[0,20,40,60,80,100],"format":"d","title":null}},
  "y":{"field":"y","type":"quantitative","scale":{"domain":[-1.286,0.061],"nice":false,"zero":false},"axis":{"values":[-1,-0.5,0],"format":".1f","title":null}}},
 "layer":[
  {"transform":[{"filter":"datum.s=='b'"}],"mark":{"type":"line","interpolate":"monotone","color":"blue","strokeWidth":1.3}},
  {"transform":[{"filter":"datum.s=='r'"}],"mark":{"type":"line","interpolate":"monotone","color":"red","strokeWidth":1.3}}
 ]},
{"title":"h=f(x)","width":342,"height":155.3,"data":{"name":"hx"},
 "encoding":{"x":{"field":"t","type":"quantitative","scale":{"domain":[-1250,26250],"nice":false,"zero":false},"axis":{"values":[0,5000,10000,15000,20000,25000],"format":"d","title":null}},
  "y":{"field":"y","type":"quantitative","scale":{"domain":[-58.75,1233.75],"nice":false,"zero":false},"axis":{"values":[0,500,1000],"format":"d","title":null}}},
 "layer":[
  {"transform":[{"filter":"datum.s=='b'"}],"mark":{"type":"line","interpolate":"monotone","color":"blue","strokeWidth":1.3}},
  {"transform":[{"filter":"datum.s=='r'"}],"mark":{"type":"line","interpolate":"monotone","color":"red","strokeWidth":1.3}},
  {"data":{"name":"mk"},"transform":[{"filter":"datum.p=='hx' && datum.k=='start'"}],"mark":{"type":"point","shape":"diamond","filled":true,"size":140,"fill":"#1f77b4","stroke":"blue","strokeWidth":1,"opacity":1}},
  {"data":{"name":"mk"},"transform":[{"filter":"datum.p=='hx' && datum.k=='end'"}],"mark":{"type":"point","shape":"diamond","filled":true,"size":140,"fill":"#ff7f0e","stroke":"red","strokeWidth":1,"opacity":1}}
 ]}
]
}
